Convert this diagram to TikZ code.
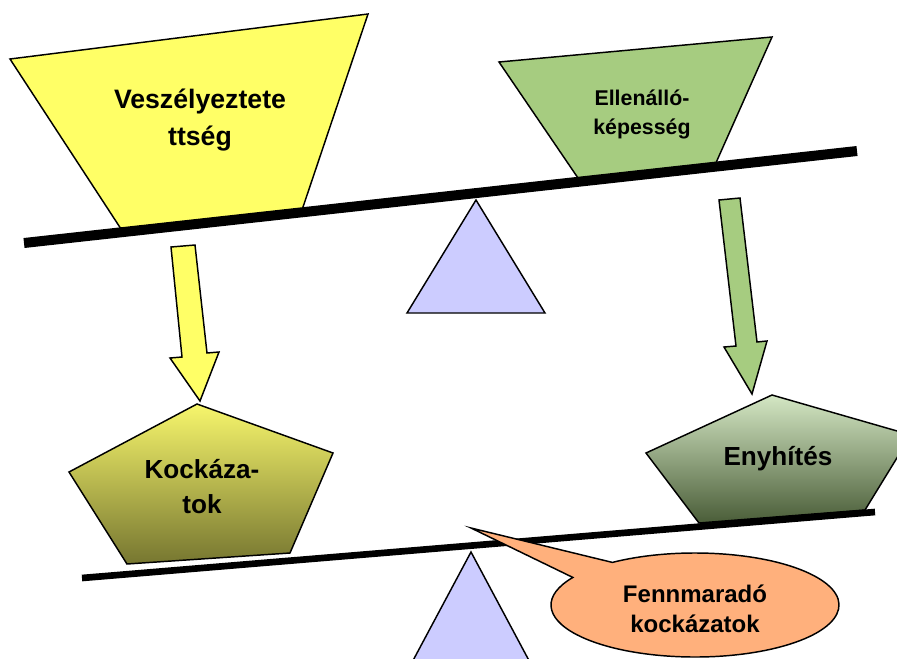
\documentclass[tikz,border=0pt]{standalone}
\usepackage{fontspec}
\setmainfont{Liberation Sans}
\usetikzlibrary{calc}

\definecolor{hazyellow}{HTML}{FFFF66}
\definecolor{resgreen}{HTML}{A6CC80}
\definecolor{pivotblue}{HTML}{CCCCFF}
\definecolor{calloutpeach}{HTML}{FFB07C}
\definecolor{riskTop}{HTML}{F7F66C}
\definecolor{riskMid}{HTML}{DCDB5E}
\definecolor{riskBot}{HTML}{767630}
\definecolor{mitTop}{HTML}{D4E7C4}
\definecolor{mitMid}{HTML}{9DB38A}
\definecolor{mitBot}{HTML}{4A5D38}

\tikzset{
  shapeline/.style={draw=black, line width=1.1pt, line join=miter},
  beam/.style={draw=black, line cap=butt},
  label/.style={font=\bfseries, align=center, inner sep=0pt},
}

\begin{document}
\begin{tikzpicture}[x=0.75pt, y=-0.75pt]
  \useasboundingbox (0,0) rectangle (897,658);
  \clip (0,0) rectangle (897,658);

  % upper balance: loads
  \draw[shapeline, fill=hazyellow] (10,59) -- (368,14) -- (302,210) -- (123,232) -- cycle;
  \draw[shapeline, fill=resgreen] (499,62) -- (772,37) -- (715,165) -- (578,178) -- cycle;

  % upper beam and pivot
  \coordinate (b1l) at (24,243);
  \coordinate (b1r) at (857,151);
  \draw[beam, line width=7.5pt] (b1l) -- (b1r);
  \draw[shapeline, fill=pivotblue] (476,200) -- (545,313) -- (407,313) -- cycle;

  % block arrows going down
  \draw[shapeline, fill=hazyellow] (171,247) -- (195,245) -- (207,353) -- (219,352)
     -- (200,401) -- (170,358) -- (182,357) -- cycle;
  \draw[shapeline, fill=resgreen] (719,200) -- (740,198) -- (757,342) -- (767,341)
     -- (752,394) -- (724,347) -- (736,346) -- cycle;

  % lower balance: pentagons
  \draw[shapeline, top color=riskTop, middle color=riskMid, bottom color=riskBot]
     (197,404) -- (333,453) -- (290,553) -- (127,564) -- (69,472) -- cycle;
  \draw[shapeline, top color=mitTop, middle color=mitMid, bottom color=mitBot]
     (772,395) -- (911,435) -- (865,510) -- (699,523) -- (646,453) -- cycle;

  % lower beam and pivot
  \coordinate (b2l) at (82,578);
  \coordinate (b2r) at (875,512);
  \draw[beam, line width=5pt] (b2l) -- (b2r);
  \draw[shapeline, fill=pivotblue] (471,552) -- (533,668) -- (409,668) -- cycle;

  % speech bubble pointing at the lower pivot
  \coordinate (fc) at (695,605);
  \coordinate (tip) at (471,528);
  \draw[shapeline, fill=calloutpeach]
     ($(fc)+(-148:144 and 52)$) -- (tip) -- ($(fc)+(-125:144 and 52)$)
     arc[start angle=-125, end angle=212, x radius=144, y radius=52] -- cycle;

  % labels
  \node[label, font=\bfseries\fontsize{20}{27.5}\selectfont] (haz) at (200,120) {Veszélyeztete\\ttség};
  \node[label, font=\bfseries\fontsize{16}{21.8}\selectfont] (res) at (642,114) {Ellenálló-\\képesség};
  \node[label, font=\bfseries\fontsize{19.6}{26.2}\selectfont] (risk) at (202,487) {Kockáza-\\tok};
  \node[label, font=\bfseries\fontsize{19.6}{26.2}\selectfont] (mit) at (778,459) {Enyhítés};
  \node[label, font=\bfseries\fontsize{18}{22.5}\selectfont] (rem) at (695,609) {Fennmaradó\\kockázatok};
\end{tikzpicture}
\end{document}
